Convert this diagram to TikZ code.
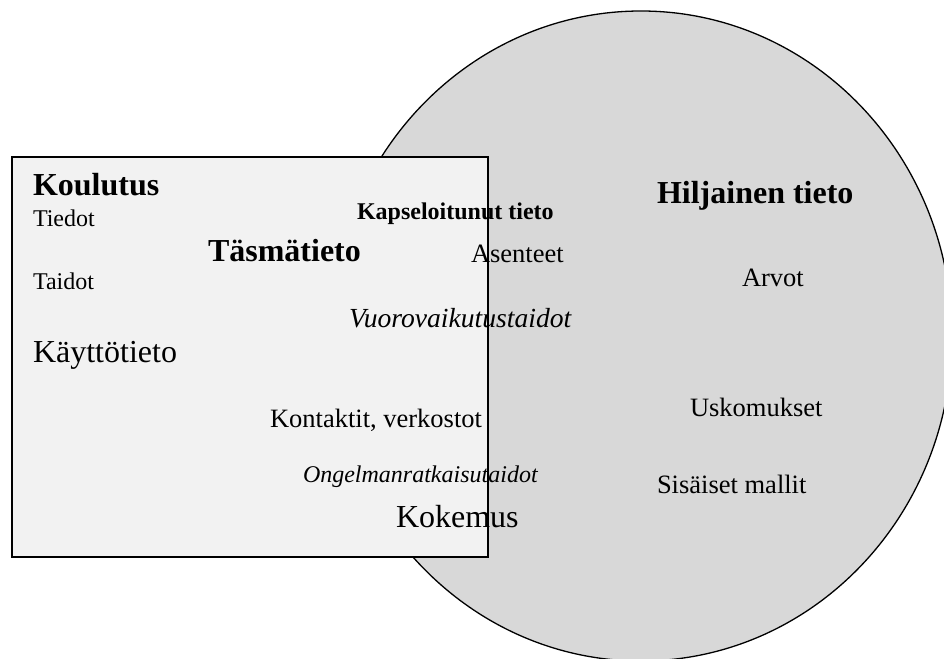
\documentclass[tikz,border=0pt]{standalone}
\usepackage{fontspec}
\setmainfont{Liberation Serif}
\definecolor{boxfill}{HTML}{F2F2F2}
\definecolor{circfill}{HTML}{D8D8D8}
\begin{document}
\begin{tikzpicture}[x=1pt,y=-1pt,
  lbl/.style={anchor=base west,inner sep=0pt,outer sep=0pt},
  small/.style={lbl,font=\fontsize{24}{28}\selectfont},
  mid/.style={lbl,font=\fontsize{26.5}{30}\selectfont},
  big/.style={lbl,font=\fontsize{32}{36}\selectfont},
  bigbold/.style={lbl,font=\fontsize{32}{36}\selectfont\bfseries},
  smallbold/.style={lbl,font=\fontsize{24}{28}\selectfont\bfseries},
  miditalic/.style={lbl,font=\fontsize{27.6}{30}\selectfont\itshape},
  smallitalic/.style={lbl,font=\fontsize{24}{28}\selectfont\itshape}]
\useasboundingbox (0,0) rectangle (944,658);
\clip (0,0) rectangle (944,658);
\fill[white] (0,0) rectangle (944,658);
% tacit knowledge ellipse
\draw[fill=circfill,line width=1.3pt] (641,336) ellipse [x radius=311, y radius=325];
% explicit knowledge box
\draw[fill=boxfill,line width=1.6pt] (12,157) rectangle (488,557);
% labels
\node[bigbold] (koulutus) at (33,195) {Koulutus};
\node[small] (tiedot) at (33,226) {Tiedot};
\node[bigbold] (tasma) at (208,261) {Täsmätieto};
\node[small] (taidot) at (33,289) {Taidot};
\node[smallbold] (kapseli) at (357,219) {Kapseloitunut tieto};
\node[mid] (asenteet) at (471,262) {Asenteet};
\node[miditalic] (vuoro) at (349,327) {Vuorovaikutustaidot};
\node[big] (kaytto) at (33,362) {Käyttötieto};
\node[mid] (kontaktit) at (270,427) {Kontaktit, verkostot};
\node[smallitalic] (ongelma) at (303,482) {Ongelmanratkaisutaidot};
\node[big] (kokemus) at (396,527) {Kokemus};
\node[bigbold] (hiljainen) at (657,203) {Hiljainen tieto};
\node[mid] (arvot) at (742,286) {Arvot};
\node[mid] (uskomukset) at (690,416) {Uskomukset};
\node[mid] (sisaiset) at (657,493) {Sisäiset mallit};
\end{tikzpicture}
\end{document}
